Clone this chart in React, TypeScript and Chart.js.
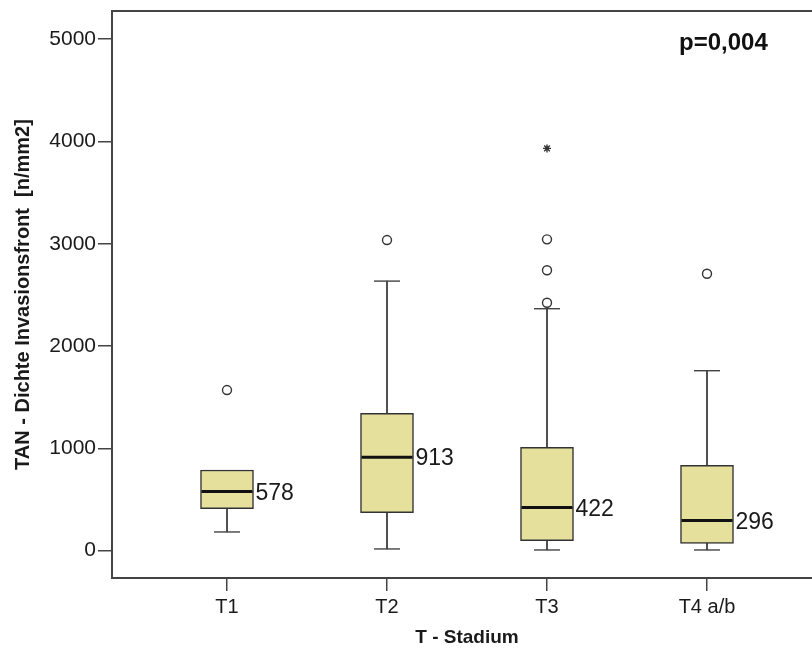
import React, { useEffect, useRef } from "react";
import { Chart, registerables } from "chart.js";

Chart.register(...registerables);

const categories = ["T1", "T2", "T3", "T4 a/b"];
const whiskerLow = [183, 17, 7, 7];
const q1 = [410, 371, 98, 72];
const medians = [578, 913, 422, 296];
const q3 = [789, 1343, 1010, 834];
const whiskerHigh = [789, 2635, 2365, 1759];
const outliers = [[1570], [3036], [2423, 2741, 3043], [2707]];
const extremes = [[], [], [3932], []];
const yTicks = [0, 1000, 2000, 3000, 4000, 5000];
const yTitle = "TAN - Dichte Invasionsfront  [n/mm2]";
const xTitle = "T - Stadium";
const pValueText = "p=0,004";

const FONT = '"Liberation Sans", Arial, Helvetica, sans-serif';
const BOX_W = 53;

export default function App() {
  const ref = useRef<HTMLCanvasElement | null>(null);

  useEffect(() => {
    if (!ref.current) return;
    Chart.defaults.font.family = FONT;

    const pos = (i: number) => i + 1;

    const boxData = categories.map((_, i) => ({ x: pos(i), y: [q1[i], q3[i]] }));
    const lowerWhiskerData = categories
      .map((_, i) => ({ x: pos(i), y: [whiskerLow[i], q1[i]] }))
      .filter((d) => d.y[1] > d.y[0]);
    const upperWhiskerData = categories
      .map((_, i) => ({ x: pos(i), y: [q3[i], whiskerHigh[i]] }))
      .filter((d) => d.y[1] > d.y[0]);
    const capData: { x: number; y: number }[] = [];
    categories.forEach((_, i) => {
      if (whiskerLow[i] < q1[i]) capData.push({ x: pos(i), y: whiskerLow[i] });
      if (whiskerHigh[i] > q3[i]) capData.push({ x: pos(i), y: whiskerHigh[i] });
    });
    const medianData = categories.map((_, i) => ({ x: pos(i), y: medians[i] }));
    const outlierData: { x: number; y: number }[] = [];
    outliers.forEach((arr, i) => arr.forEach((v) => outlierData.push({ x: pos(i), y: v })));
    const extremeData: { x: number; y: number }[] = [];
    extremes.forEach((arr, i) => arr.forEach((v) => extremeData.push({ x: pos(i), y: v })));

    const zeroPad = (s: any) => {
      s.paddingTop = 0;
      s.paddingBottom = 0;
      s.paddingLeft = 0;
      s.paddingRight = 0;
    };

    const overlay = {
      id: "overlay",
      afterDatasetsDraw(chart: any) {
        const { ctx, chartArea, scales } = chart;
        const xs = scales.x;
        const ys = scales.y;
        ctx.save();
        // top frame line
        ctx.strokeStyle = "#444";
        ctx.lineWidth = 2;
        ctx.beginPath();
        ctx.moveTo(chartArea.left - 1, chartArea.top);
        ctx.lineTo(chartArea.right, chartArea.top);
        ctx.stroke();
        // median labels
        ctx.fillStyle = "#1a1a1a";
        ctx.font = `23px ${FONT}`;
        ctx.textAlign = "left";
        ctx.textBaseline = "alphabetic";
        medians.forEach((m, i) => {
          const x = xs.getPixelForValue(pos(i)) + BOX_W / 2 + 2;
          const y = ys.getPixelForValue(m);
          ctx.fillText(String(m), x, y + 8.2);
        });
        // p-value
        ctx.font = `bold 24px ${FONT}`;
        ctx.fillStyle = "#111";
        ctx.fillText(pValueText, 679, 49.5);
        ctx.restore();
      },
    };

    const whiskerStyle = {
      type: "bar",
      backgroundColor: "#444",
      borderWidth: 0,
      barThickness: 1.2,
      grouped: false,
      order: 4,
    };

    const chart = new Chart(ref.current, {
      type: "bar",
      data: {
        datasets: [
          {
            type: "scatter",
            data: outlierData,
            pointStyle: "circle",
            radius: 4.5,
            borderWidth: 1.4,
            borderColor: "#333",
            backgroundColor: "#fff",
            order: 0,
          } as any,
          {
            type: "scatter",
            data: extremeData,
            pointStyle: "star",
            radius: 4,
            borderWidth: 1.4,
            borderColor: "#333",
            backgroundColor: "#333",
            order: 0,
          } as any,
          {
            type: "scatter",
            data: medianData,
            pointStyle: "line",
            radius: 25.5,
            borderWidth: 3,
            borderColor: "#111",
            order: 1,
          } as any,
          {
            type: "bar",
            data: boxData,
            backgroundColor: "rgb(229,225,157)",
            borderColor: "#333",
            borderWidth: 1.5,
            borderSkipped: false,
            barThickness: BOX_W,
            grouped: false,
            order: 2,
          } as any,
          {
            type: "scatter",
            data: capData,
            pointStyle: "line",
            radius: 13,
            borderWidth: 1.4,
            borderColor: "#444",
            order: 3,
          } as any,
          { ...whiskerStyle, data: lowerWhiskerData } as any,
          { ...whiskerStyle, data: upperWhiskerData } as any,
        ],
      },
      options: {
        animation: false,
        responsive: false,
        maintainAspectRatio: false,
        layout: { autoPadding: false, padding: { top: 11, right: 8, left: 0, bottom: 0 } },
        plugins: { legend: { display: false }, tooltip: { enabled: false } },
        scales: {
          x: {
            type: "linear",
            min: 0.28125,
            max: 4.71875,
            offset: false,
            afterBuildTicks: (s: any) => {
              s.ticks = categories.map((_, i) => ({ value: pos(i) }));
            },
            afterFit: (s: any) => {
              s.height = 71;
              zeroPad(s);
            },
            ticks: {
              callback: (_v: any, i: number) => categories[i] ?? "",
              font: { size: 20 },
              color: "#1a1a1a",
              padding: 4,
              autoSkip: false,
              maxRotation: 0,
            },
            grid: { display: true, offset: false, drawOnChartArea: false, drawTicks: true, tickLength: 13, color: "#444", lineWidth: 1.5 },
            border: { display: true, color: "#444", width: 2 },
            title: { display: true, text: xTitle, font: { size: 19, weight: "bold" }, color: "#1a1a1a", padding: { top: 0, bottom: 0 } },
          },
          y: {
            type: "linear",
            min: -267,
            max: 5275,
            afterBuildTicks: (s: any) => {
              s.ticks = yTicks.map((v) => ({ value: v }));
            },
            afterFit: (s: any) => {
              s.width = 112;
              zeroPad(s);
            },
            ticks: {
              callback: (v: any) => String(v),
              font: { size: 21 },
              color: "#1a1a1a",
              padding: 2,
            },
            grid: { display: true, drawOnChartArea: false, drawTicks: true, tickLength: 14, color: "#444", lineWidth: 1.5 },
            border: { display: true, color: "#444", width: 2 },
            title: { display: true, text: yTitle, font: { size: 20, weight: "bold" }, color: "#1a1a1a", padding: { top: 11, bottom: 0 } },
          },
        },
      } as any,
      plugins: [overlay],
    });
    return () => chart.destroy();
  }, []);

  return (
    <div style={{ position: "fixed", left: 0, top: 0, width: 812, height: 649, overflow: "hidden", background: "#fff" }}>
      <canvas ref={ref} width={830} height={649} style={{ display: "block", width: 830, height: 649 }} />
    </div>
  );
}
